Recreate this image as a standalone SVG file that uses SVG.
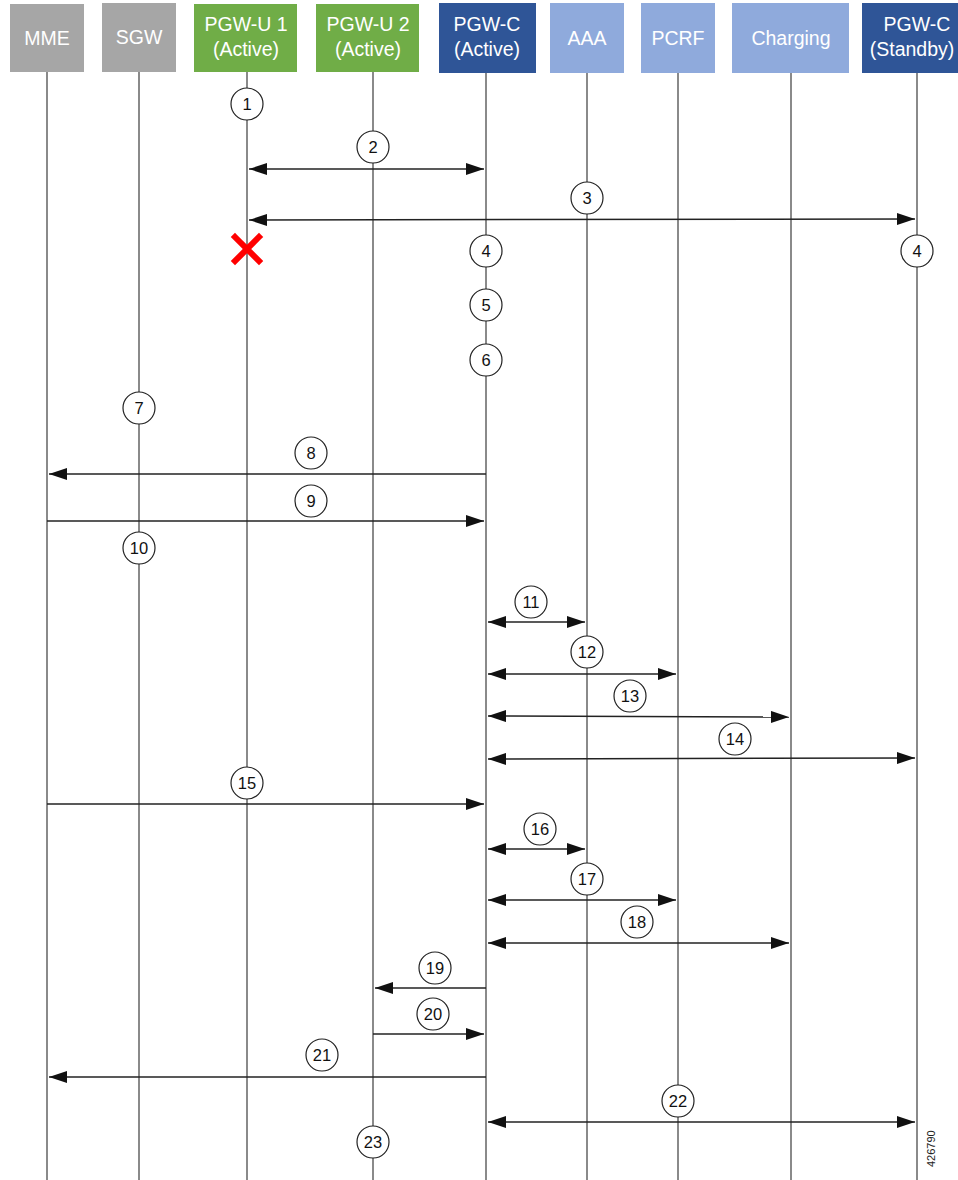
<svg xmlns="http://www.w3.org/2000/svg" width="958" height="1180" viewBox="0 0 958 1180">
<style>
.box text{font-family:"Liberation Sans",Arial,sans-serif;font-size:19.5px;fill:#fff;text-anchor:middle}
.life{stroke:#8a8a8a;stroke-width:2;fill:none}
.msg{stroke:#222;stroke-width:1.5;fill:none}
.step circle{fill:#fff;stroke:#222;stroke-width:1.2}
.step text{font-family:"Liberation Sans",Arial,sans-serif;font-size:16.5px;fill:#111;text-anchor:middle}
.gray{fill:#a6a6a6}.green{fill:#70ad47}.dark{fill:#2f5597}.light{fill:#8faadc}
</style>
<defs>
<marker id="ah" markerUnits="userSpaceOnUse" markerWidth="18" markerHeight="12" refX="18" refY="6" orient="auto-start-reverse"><path d="M0,0 L18,6 L0,12 z" fill="#111"/></marker>
</defs>
<rect width="958" height="1180" fill="#fff"/>
<g id="lifelines">
<line class="life" x1="47" y1="72" x2="47" y2="1180"/>
<line class="life" x1="139" y1="72" x2="139" y2="1180"/>
<line class="life" x1="247" y1="72" x2="247" y2="1180"/>
<line class="life" x1="373" y1="72" x2="373" y2="1180"/>
<line class="life" x1="486" y1="72" x2="486" y2="1180"/>
<line class="life" x1="587" y1="72" x2="587" y2="1180"/>
<line class="life" x1="678" y1="72" x2="678" y2="1180"/>
<line class="life" x1="791" y1="72" x2="791" y2="1180"/>
<line class="life" x1="917" y1="72" x2="917" y2="1180"/>
</g>
<g id="node-mme" class="box"><rect class="gray" x="10" y="4" width="74" height="68"/><text x="47" y="45">MME</text></g>
<g id="node-sgw" class="box"><rect class="gray" x="102" y="3" width="74" height="69"/><text x="139" y="44">SGW</text></g>
<g id="node-pgwu1" class="box"><rect class="green" x="194" y="4" width="103" height="68"/><text x="246" y="31">PGW-U 1</text><text x="246" y="56">(Active)</text></g>
<g id="node-pgwu2" class="box"><rect class="green" x="316" y="4" width="103" height="68"/><text x="368" y="31">PGW-U 2</text><text x="368" y="56">(Active)</text></g>
<g id="node-pgwc" class="box"><rect class="dark" x="439" y="3" width="97" height="70"/><text x="487" y="31">PGW-C</text><text x="487" y="56">(Active)</text></g>
<g id="node-aaa" class="box"><rect class="light" x="550" y="3" width="74" height="70"/><text x="587" y="45">AAA</text></g>
<g id="node-pcrf" class="box"><rect class="light" x="641" y="3" width="74" height="70"/><text x="678" y="45">PCRF</text></g>
<g id="node-charging" class="box"><rect class="light" x="732" y="3" width="117" height="70"/><text x="791" y="45">Charging</text></g>
<g id="node-pgwc-standby" class="box"><rect class="dark" x="862" y="3" width="100" height="70"/><text x="917" y="31">PGW-C</text><text x="912" y="56">(Standby)</text></g>
<g id="connectors">
<line class="msg" x1="249" y1="169" x2="484" y2="169" marker-start="url(#ah)" marker-end="url(#ah)"/>
<line class="msg" x1="249" y1="220" x2="915" y2="219" marker-start="url(#ah)" marker-end="url(#ah)"/>
<line class="msg" x1="486" y1="474" x2="49" y2="474" marker-end="url(#ah)"/>
<line class="msg" x1="47" y1="521" x2="484" y2="521" marker-end="url(#ah)"/>
<line class="msg" x1="488" y1="622" x2="585" y2="622" marker-start="url(#ah)" marker-end="url(#ah)"/>
<line class="msg" x1="488" y1="674" x2="676" y2="674" marker-start="url(#ah)" marker-end="url(#ah)"/>
<line class="msg" x1="488" y1="716" x2="789" y2="717" marker-start="url(#ah)" marker-end="url(#ah)"/>
<line class="msg" x1="488" y1="759" x2="915" y2="758" marker-start="url(#ah)" marker-end="url(#ah)"/>
<line class="msg" x1="47" y1="804" x2="484" y2="804" marker-end="url(#ah)"/>
<line class="msg" x1="488" y1="849" x2="585" y2="849" marker-start="url(#ah)" marker-end="url(#ah)"/>
<line class="msg" x1="488" y1="900" x2="676" y2="900" marker-start="url(#ah)" marker-end="url(#ah)"/>
<line class="msg" x1="488" y1="943" x2="789" y2="943" marker-start="url(#ah)" marker-end="url(#ah)"/>
<line class="msg" x1="486" y1="988" x2="375" y2="988" marker-end="url(#ah)"/>
<line class="msg" x1="373" y1="1034" x2="484" y2="1034" marker-end="url(#ah)"/>
<line class="msg" x1="486" y1="1077" x2="49" y2="1077" marker-end="url(#ah)"/>
<line class="msg" x1="488" y1="1122" x2="915" y2="1122" marker-start="url(#ah)" marker-end="url(#ah)"/>
</g>
<g id="failure-x" stroke="#f00" stroke-width="6" stroke-linecap="square"><line x1="235" y1="237" x2="259" y2="261"/><line x1="259" y1="237" x2="235" y2="261"/></g>
<g id="steps" class="step">
<g><circle cx="247" cy="104" r="16"/><text x="247" y="110">1</text></g>
<g><circle cx="373" cy="147" r="16"/><text x="373" y="153">2</text></g>
<g><circle cx="587" cy="198" r="16"/><text x="587" y="204">3</text></g>
<g><circle cx="486" cy="251" r="16"/><text x="486" y="257">4</text></g>
<g><circle cx="917" cy="251" r="16"/><text x="917" y="257">4</text></g>
<g><circle cx="486" cy="305" r="16"/><text x="486" y="311">5</text></g>
<g><circle cx="486" cy="360" r="16"/><text x="486" y="366">6</text></g>
<g><circle cx="139" cy="408" r="16"/><text x="139" y="414">7</text></g>
<g><circle cx="311" cy="453" r="16"/><text x="311" y="459">8</text></g>
<g><circle cx="311" cy="501" r="16"/><text x="311" y="507">9</text></g>
<g><circle cx="139" cy="548" r="16"/><text x="139" y="554">10</text></g>
<g><circle cx="531" cy="602" r="16"/><text x="531" y="608">11</text></g>
<g><circle cx="587" cy="652" r="16"/><text x="587" y="658">12</text></g>
<g><circle cx="630" cy="696" r="16"/><text x="630" y="702">13</text></g>
<g><circle cx="735" cy="739" r="16"/><text x="735" y="745">14</text></g>
<g><circle cx="247" cy="783" r="16"/><text x="247" y="789">15</text></g>
<g><circle cx="540" cy="829" r="16"/><text x="540" y="835">16</text></g>
<g><circle cx="587" cy="879" r="16"/><text x="587" y="885">17</text></g>
<g><circle cx="637" cy="922" r="16"/><text x="637" y="928">18</text></g>
<g><circle cx="435" cy="968" r="16"/><text x="435" y="974">19</text></g>
<g><circle cx="433" cy="1014" r="16"/><text x="433" y="1020">20</text></g>
<g><circle cx="322" cy="1055" r="16"/><text x="322" y="1061">21</text></g>
<g><circle cx="678" cy="1101" r="16"/><text x="678" y="1107">22</text></g>
<g><circle cx="373" cy="1142" r="16"/><text x="373" y="1148">23</text></g>
</g>
<text x="0" y="0" transform="translate(935,1167) rotate(-90)" font-family="'Liberation Sans',Arial,sans-serif" font-size="11" fill="#222">426790</text>
</svg>
